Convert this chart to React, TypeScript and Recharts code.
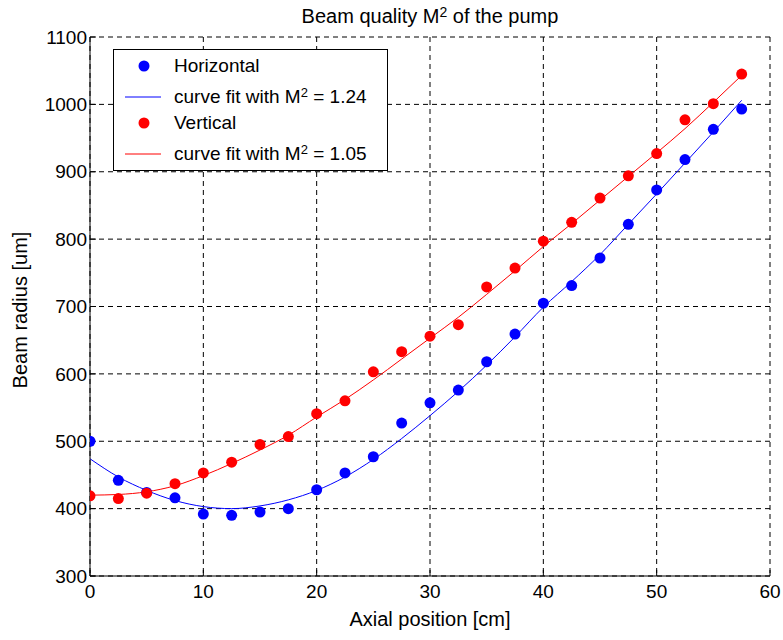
import React from "react";
import { ComposedChart, Line, Scatter, XAxis, YAxis, CartesianGrid } from "recharts";

// axial positions [cm]
const positions = [0, 2.5, 5, 7.5, 10, 12.5, 15, 17.5, 20, 22.5, 25, 27.5, 30, 32.5, 35, 37.5, 40, 42.5, 45, 47.5, 50, 52.5, 55, 57.5];

// measured beam radius [um]
const horizontal = [500, 442, 424, 416, 392, 390, 395, 400, 428, 453, 477, 527, 557, 576, 618, 659, 705, 731, 772, 822, 873, 918, 963, 993];
const vertical = [419, 415, 423, 437, 453, 469, 495, 507, 541, 560, 603, 633, 656, 673, 729, 757, 797, 825, 861, 894, 927, 977, 1001, 1045];

// fitted curves
const horizontalFit = [474, 447, 427, 412, 403, 400, 404, 413, 427, 447, 473, 504, 538, 574, 613, 655, 699, 737, 777, 822, 867, 913, 959, 1006];
const verticalFit = [420, 421, 425, 434, 449, 467, 487, 509, 536, 562, 591, 622, 653, 684, 718, 753, 789, 823, 858, 893, 928, 964, 1003, 1043];

const xTicks = [0, 10, 20, 30, 40, 50, 60];
const yTicks = [300, 400, 500, 600, 700, 800, 900, 1000, 1100];

const FONT = "'Liberation Sans', Arial, sans-serif";
const NARROW = "'Liberation Sans Narrow', 'Liberation Sans', Arial, sans-serif";
const BLUE = "#0000ff";
const RED = "#ff0000";

const toPoints = (ys: number[]) => positions.map((z, i) => ({ z, r: ys[i] }));

const dot = (color: string) => (props: any) => <circle cx={props.cx} cy={props.cy} r={5.5} fill={color} />;

const tickStyle = { fill: "#000", fontSize: 19, fontFamily: NARROW };

function LegendBox() {
  const row = (top: number, marker: React.ReactNode, label: React.ReactNode) => (
    <div style={{ position: "absolute", left: 0, top: top - 12, height: 24, width: "100%" }}>
      <svg width={60} height={24} style={{ position: "absolute", left: 0, top: 0 }}>{marker}</svg>
      <div style={{ position: "absolute", left: 60, top: 0, lineHeight: "24px", whiteSpace: "nowrap" }}>{label}</div>
    </div>
  );
  const sup = (s: string) => <sup style={{ fontSize: 13, verticalAlign: "6px", lineHeight: 0 }}>{s}</sup>;
  return (
    <div style={{ position: "absolute", left: 113, top: 49, width: 273, height: 120, border: "1px solid #000", background: "#fff", fontFamily: FONT, fontSize: 19, color: "#000" }}>
      {row(16, <circle cx={30} cy={12} r={5.5} fill={BLUE} />, "Horizontal")}
      {row(47, <line x1={11} x2={47} y1={12} y2={12} stroke={BLUE} />, <>curve fit with M{sup("2")} = 1.24</>)}
      {row(73, <circle cx={30} cy={12} r={5.5} fill={RED} />, "Vertical")}
      {row(104, <line x1={11} x2={47} y1={12} y2={12} stroke={RED} />, <>curve fit with M{sup("2")} = 1.05</>)}
    </div>
  );
}

export default function App() {
  return (
    <div style={{ position: "absolute", left: 0, top: 0, width: 783, height: 640, background: "#fff" }}>
      <ComposedChart width={783} height={640} margin={{ top: 37, right: 13, bottom: 0, left: 0 }}>
        <CartesianGrid stroke="#000" strokeDasharray="5 4" xAxisId="x" yAxisId="y" />
        <XAxis xAxisId="x" type="number" dataKey="z" domain={[0, 60]} ticks={xTicks} height={64}
          stroke="#000" tickSize={-6} tickMargin={15} tick={tickStyle} allowDataOverflow />
        <XAxis xAxisId="top" orientation="top" type="number" dataKey="z" domain={[0, 60]} ticks={xTicks} height={0}
          stroke="#000" tickSize={-6} tick={false} />
        <YAxis yAxisId="y" type="number" domain={[300, 1100]} ticks={yTicks} width={90}
          stroke="#000" tickSize={-6} tickMargin={9} tick={tickStyle} allowDataOverflow />
        <YAxis yAxisId="right" orientation="right" type="number" domain={[300, 1100]} ticks={yTicks} width={0}
          stroke="#000" tickSize={-6} tick={false} />
        <Scatter xAxisId="x" yAxisId="y" data={toPoints(horizontal)} dataKey="r" fill={BLUE} shape={dot(BLUE)} isAnimationActive={false} />
        <Scatter xAxisId="x" yAxisId="y" data={toPoints(vertical)} dataKey="r" fill={RED} shape={dot(RED)} isAnimationActive={false} />
        <Line xAxisId="x" yAxisId="y" data={toPoints(horizontalFit)} dataKey="r" stroke={BLUE} strokeWidth={1} dot={false} type="monotone" isAnimationActive={false} />
        <Line xAxisId="x" yAxisId="y" data={toPoints(verticalFit)} dataKey="r" stroke={RED} strokeWidth={1} dot={false} type="monotone" isAnimationActive={false} />
      </ComposedChart>

      <div style={{ position: "absolute", left: 90, top: 4, width: 680, textAlign: "center", fontFamily: FONT, fontSize: 20, lineHeight: "24px" }}>
        Beam quality M<sup style={{ fontSize: 14, verticalAlign: "6px", lineHeight: 0 }}>2</sup> of the pump
      </div>
      <div style={{ position: "absolute", left: 90, top: 607, width: 680, textAlign: "center", fontFamily: FONT, fontSize: 20, lineHeight: "24px" }}>
        Axial position [cm]
      </div>
      <div style={{ position: "absolute", left: 20, top: 310, width: 0, height: 0 }}>
        <div style={{ position: "absolute", left: -100, top: -12, width: 200, textAlign: "center", transform: "rotate(-90deg)", fontFamily: FONT, fontSize: 20, lineHeight: "24px", whiteSpace: "nowrap" }}>
          Beam radius [um]
        </div>
      </div>
      <LegendBox />
    </div>
  );
}
